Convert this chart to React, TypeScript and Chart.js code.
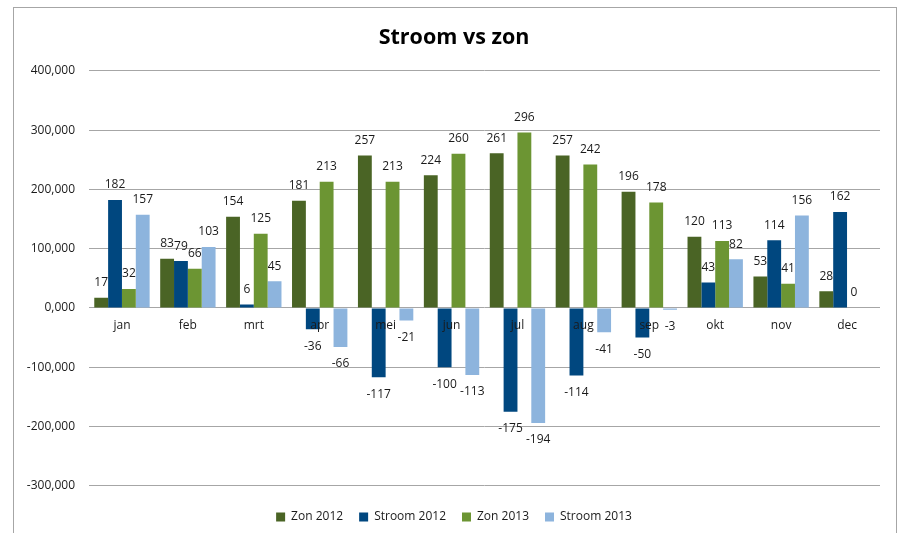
import React, { useEffect, useRef } from 'react';
import { Chart, registerables } from 'chart.js';

Chart.register(...registerables);

const months = ['jan', 'feb', 'mrt', 'apr', 'mei', 'jun', 'jul', 'aug', 'sep', 'okt', 'nov', 'dec'];
const zon2012 = [17, 83, 154, 181, 257, 224, 261, 257, 196, 120, 53, 28];
const stroom2012 = [182, 79, 6, -36, -117, -100, -175, -114, -50, 43, 114, 162];
const zon2013 = [32, 66, 125, 213, 213, 260, 296, 242, 178, 113, 41, 0];
const stroom2013 = [157, 103, 45, -66, -21, -113, -194, -41, -3, 82, 156, null];

const seriesNames = ['Zon 2012', 'Stroom 2012', 'Zon 2013', 'Stroom 2013'];
const seriesColors = ['#4A6425', '#00477F', '#6C9533', '#8DB4DD'];

const FONT = '"Open Sans", "Noto Sans", sans-serif';

const framePlugin = {
  id: 'frame',
  beforeDraw(chart: any) {
    const { ctx, width, height } = chart;
    ctx.save();
    ctx.fillStyle = '#ffffff';
    ctx.fillRect(0, 0, width, height);
    ctx.strokeStyle = '#A6A6A6';
    ctx.lineWidth = 1;
    ctx.strokeRect(13.5, 7.5, 883, height + 10);
    ctx.restore();
  },
};

const valueLabels = {
  id: 'valueLabels',
  afterDatasetsDraw(chart: any) {
    const ctx = chart.ctx;
    ctx.save();
    ctx.font = '12px ' + FONT;
    ctx.fillStyle = '#1a1a1a';
    ctx.textAlign = 'center';
    chart.data.datasets.forEach((ds: any, i: number) => {
      const meta = chart.getDatasetMeta(i);
      meta.data.forEach((el: any, j: number) => {
        const v = ds.data[j];
        if (v === null || v === undefined) return;
        const { x, y } = el.getProps(['x', 'y'], true);
        if (v >= 0) {
          ctx.textBaseline = 'bottom';
          ctx.fillText(String(v), x, y - 9);
        } else {
          ctx.textBaseline = 'top';
          ctx.fillText(String(v), x, y + 11);
        }
      });
    });
    ctx.restore();
  },
};

export default function App() {
  const ref = useRef<HTMLCanvasElement | null>(null);
  useEffect(() => {
    if (!ref.current) return;
    const data = [zon2012, stroom2012, zon2013, stroom2013];
    const chart = new Chart(ref.current, {
      type: 'bar',
      data: {
        labels: months,
        datasets: data.map((d, i) => ({
          label: seriesNames[i],
          data: d,
          backgroundColor: seriesColors[i],
          borderWidth: 0,
          categoryPercentage: 0.84,
          barPercentage: 1,
        })),
      },
      options: {
        animation: false,
        responsive: false,
        maintainAspectRatio: false,
        layout: { padding: { left: 14, right: 7, top: 7, bottom: 0 } },
        plugins: {
          title: {
            display: true,
            text: 'Stroom vs zon',
            color: '#000',
            font: { family: FONT, size: 21.5, weight: 'bold' },
            padding: { top: 18, bottom: 20 },
          },
          legend: {
            position: 'bottom',
            title: { display: true, text: ' ', font: { size: 1 }, padding: { top: 8, bottom: 0 } },
            labels: {
              boxWidth: 9,
              boxHeight: 9,
              padding: 16,
              color: '#1a1a1a',
              font: { family: FONT, size: 12 },
            },
          },
          tooltip: { enabled: false },
        },
        scales: {
          x: {
            position: { y: 0 } as any,
            grid: { display: false, drawTicks: false },
            border: { display: false },
            ticks: { z: 1, color: '#1a1a1a', font: { family: FONT, size: 12 }, padding: 10, maxRotation: 0 },
          },
          y: {
            min: -300,
            max: 400,
            grid: { color: '#A6A6A6', drawTicks: false },
            border: { display: false },
            ticks: {
              stepSize: 100,
              padding: 14,
              color: '#1a1a1a',
              font: { family: FONT, size: 12 },
              callback: (v: any) => Number(v).toFixed(3).replace('.', ','),
            },
            afterFit: (s: any) => {
              s.width = 75;
            },
          },
          y2: {
            position: 'right',
            display: true,
            grid: { display: false, drawTicks: false },
            border: { display: false },
            ticks: { display: false },
            afterFit: (s: any) => {
              s.width = 14;
            },
          },
        },
      },
      plugins: [framePlugin, valueLabels],
    });
    return () => chart.destroy();
  }, []);
  return (
    <div style={{ position: 'absolute', left: 0, top: 0, width: 901, height: 533 }}>
      <canvas ref={ref} width={901} height={533} style={{ display: 'block' }} />
    </div>
  );
}
